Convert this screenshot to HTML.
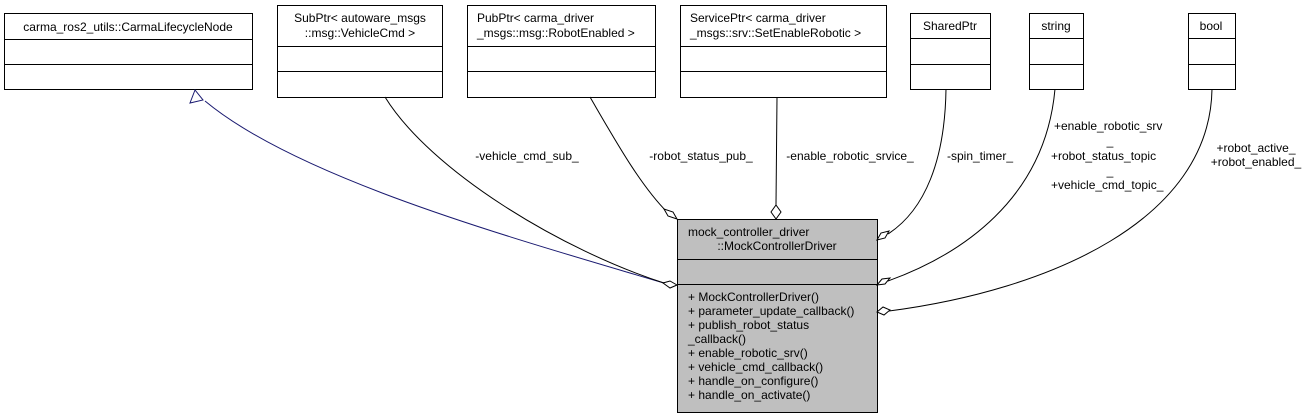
<!DOCTYPE html>
<html><head><style>body{margin:0;background:#fff}svg{display:block}text{font-family:"Liberation Sans",Arial,sans-serif;font-size:12px;fill:#000}</style></head>
<body>
<svg width="1311" height="419" viewBox="0 0 1311 419" xmlns="http://www.w3.org/2000/svg">
<g fill="#fff" stroke="#000" stroke-width="1">
<rect x="4.5" y="13.5" width="248" height="76"/><line x1="4.5" y1="39.5" x2="252.5" y2="39.5"/><line x1="4.5" y1="64.5" x2="252.5" y2="64.5"/>
<rect x="277.5" y="5.5" width="165" height="92"/><line x1="277.5" y1="46.5" x2="442.5" y2="46.5"/><line x1="277.5" y1="71.5" x2="442.5" y2="71.5"/>
<rect x="467.5" y="5.5" width="188" height="92"/><line x1="467.5" y1="46.5" x2="655.5" y2="46.5"/><line x1="467.5" y1="71.5" x2="655.5" y2="71.5"/>
<rect x="680.5" y="5.5" width="206" height="92"/><line x1="680.5" y1="46.5" x2="886.5" y2="46.5"/><line x1="680.5" y1="71.5" x2="886.5" y2="71.5"/>
<rect x="910.5" y="13.5" width="80" height="76"/><line x1="910.5" y1="38.5" x2="990.5" y2="38.5"/><line x1="910.5" y1="64.5" x2="990.5" y2="64.5"/>
<rect x="1029.5" y="13.5" width="54" height="76"/><line x1="1029.5" y1="38.5" x2="1083.5" y2="38.5"/><line x1="1029.5" y1="64.5" x2="1083.5" y2="64.5"/>
<rect x="1188.5" y="13.5" width="47" height="76"/><line x1="1188.5" y1="38.5" x2="1235.5" y2="38.5"/><line x1="1188.5" y1="64.5" x2="1235.5" y2="64.5"/>
<rect x="677.5" y="219.5" width="200" height="193" fill="#bfbfbf"/><line x1="677.5" y1="259.5" x2="877.5" y2="259.5"/><line x1="677.5" y1="284.5" x2="877.5" y2="284.5"/>
</g>
<text x="128" y="31" text-anchor="middle">carma_ros2_utils::CarmaLifecycleNode</text>
<text x="360" y="22" text-anchor="middle">SubPtr&lt; autoware_msgs</text>
<text x="360" y="37" text-anchor="middle">::msg::VehicleCmd &gt;</text>
<text x="477" y="22">PubPtr&lt; carma_driver</text>
<text x="477" y="37">_msgs::msg::RobotEnabled &gt;</text>
<text x="690" y="22">ServicePtr&lt; carma_driver</text>
<text x="690" y="37">_msgs::srv::SetEnableRobotic &gt;</text>
<text x="950" y="30" text-anchor="middle">SharedPtr</text>
<text x="1056" y="30" text-anchor="middle">string</text>
<text x="1211" y="30" text-anchor="middle">bool</text>
<text x="688" y="236">mock_controller_driver</text>
<text x="777" y="250" text-anchor="middle">::MockControllerDriver</text>
<g>
<text x="688" y="301">+ MockControllerDriver()</text>
<text x="688" y="315">+ parameter_update_callback()</text>
<text x="688" y="329">+ publish_robot_status</text>
<text x="688" y="343">_callback()</text>
<text x="688" y="357">+ enable_robotic_srv()</text>
<text x="688" y="371">+ vehicle_cmd_callback()</text>
<text x="688" y="385">+ handle_on_configure()</text>
<text x="688" y="399">+ handle_on_activate()</text>
</g>
<g fill="none" stroke="#000" stroke-width="1">
<path d="M205,101 C300,180 520,240 667,284" stroke="#191970"/>
<path d="M385,97 C430,170 560,250 667,284"/>
<path d="M590,97 C615,140 640,185 668,213"/>
<path d="M777,97 L776,205"/>
<path d="M946,89 C945,160 925,210 888,234"/>
<path d="M1055,89 C1045,200 960,255 888,281"/>
<path d="M1212,89 C1210,220 1050,290 889,311"/>
</g>
<polygon points="195,90 190,103 203,100" fill="#fff" stroke="#191970"/>
<g fill="#fff" stroke="#000">
<polygon points="677,285 670,281 663,283 670,288"/>
<polygon points="677,219 668,216 664,209 673,212"/>
<polygon points="776,219 771,212 776,205 781,212"/>
<polygon points="877,240 881,233 889,231 885,238"/>
<polygon points="877,285 882,279 890,278 885,284"/>
<polygon points="877,312 883,307 890,310 884,315"/>
</g>
<text x="527" y="160" text-anchor="middle">-vehicle_cmd_sub_</text>
<text x="701" y="160" text-anchor="middle">-robot_status_pub_</text>
<text x="850" y="160" text-anchor="middle">-enable_robotic_srvice_</text>
<text x="980" y="160" text-anchor="middle">-spin_timer_</text>
<text x="1054" y="130">+enable_robotic_srv</text>
<text x="1110" y="145" text-anchor="middle">_</text>
<text x="1051" y="160">+robot_status_topic</text>
<text x="1110" y="175" text-anchor="middle">_</text>
<text x="1051" y="189">+vehicle_cmd_topic_</text>
<text x="1256" y="152" text-anchor="middle">+robot_active_</text>
<text x="1256" y="166" text-anchor="middle">+robot_enabled_</text>
</svg>
</body></html>
